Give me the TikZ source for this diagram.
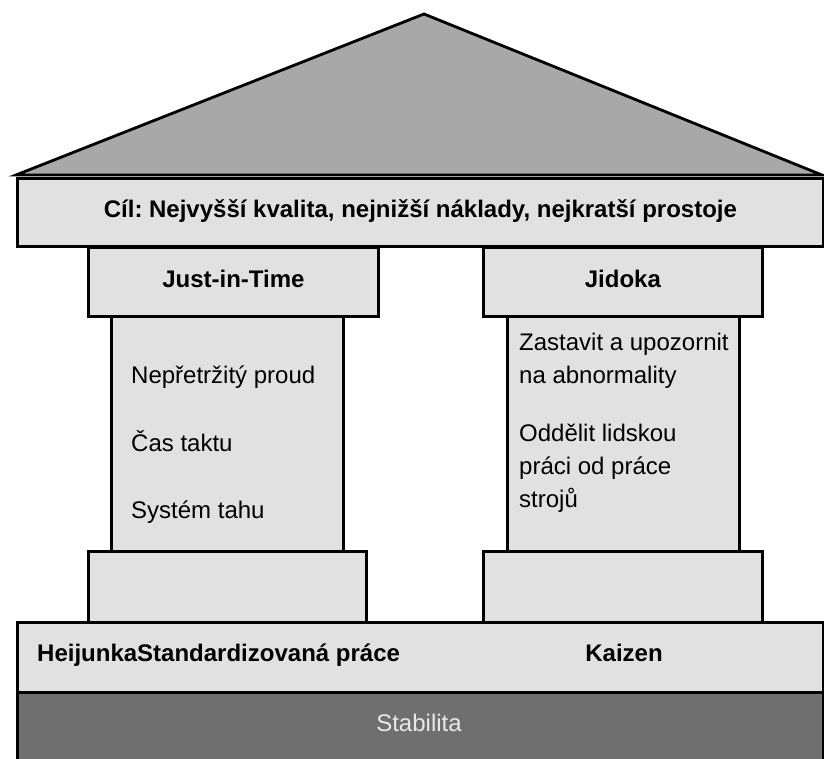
\documentclass[tikz,border=0pt]{standalone}
\usepackage{fontspec}
\setmainfont{Liberation Sans}
\usetikzlibrary{positioning}
\definecolor{roofgray}{HTML}{A8A8A8}
\definecolor{slabgray}{HTML}{E1E1E1}
\definecolor{basegray}{HTML}{6F6F6F}
\definecolor{labelwhite}{HTML}{E8E8E8}
\frenchspacing

\begin{document}
\begin{tikzpicture}[x=1pt,y=-1pt,
    slab/.style={draw,line width=2.8pt,fill=slabgray,inner sep=0pt,anchor=north west},
    boldlabel/.style={font=\fontsize{24}{29}\selectfont\bfseries,text depth=7pt},
    itemlabel/.style={font=\fontsize{24}{33}\selectfont,align=left,inner sep=0pt,anchor=base west}]
    \useasboundingbox (0,0) rectangle (824,758);
    % roof
    \coordinate (apex) at (424,14);
    \coordinate (eaveL) at (16,175);
    \coordinate (eaveR) at (822,175);
    \draw[line width=2.8pt,fill=roofgray] (eaveL) -- (apex) -- (eaveR) -- cycle;
    \node[slab,boldlabel,minimum width=806pt,minimum height=68pt] (goal) at (16,177) {Cíl: Nejvyšší kvalita, nejnižší náklady, nejkratší prostoje};
    % left pillar
    \node[slab,minimum width=232pt,minimum height=235pt] (jitshaft) at (110,315) {};
    \node[slab,boldlabel,minimum width=290pt,minimum height=69pt] (jitcap) at (87,246) {Just-in-Time};
    \node[slab,minimum width=278pt,minimum height=71pt] (jitbase) at (87,550) {};
    \node[itemlabel] (flow) at (131,383) {Nepřetržitý proud};
    \node[itemlabel] (takt) at (131,451) {Čas taktu};
    \node[itemlabel] (pull) at (131,518) {Systém tahu};
    % right pillar (base anchor sits on the last line)
    \node[slab,minimum width=232pt,minimum height=235pt] (jidshaft) at (506,315) {};
    \node[slab,boldlabel,minimum width=279pt,minimum height=69pt] (jidcap) at (482,246) {Jidoka};
    \node[slab,minimum width=279pt,minimum height=71pt] (jidbase) at (482,550) {};
    \node[itemlabel] (stopcall) at (519,383) {Zastavit a upozornit\\na abnormality};
    \node[itemlabel] (separate) at (519,507) {Oddělit lidskou\\práci od práce\\strojů};
    % foundation
    \node[slab,minimum width=806pt,minimum height=70pt] (found) at (16,621) {};
    \node[boldlabel,anchor=west,inner sep=0pt] (heijunka) at (37,656) {HeijunkaStandardizovaná práce};
    \node[boldlabel,inner sep=0pt] (kaizen) at (624,656) {Kaizen};
    \node[slab,fill=basegray,minimum width=806pt,minimum height=74pt] (stab) at (16,691) {};
    \node[font=\fontsize{24}{29}\selectfont,text=labelwhite] (stabtext) at (419,723) {Stabilita};
  \end{tikzpicture}
\end{document}
